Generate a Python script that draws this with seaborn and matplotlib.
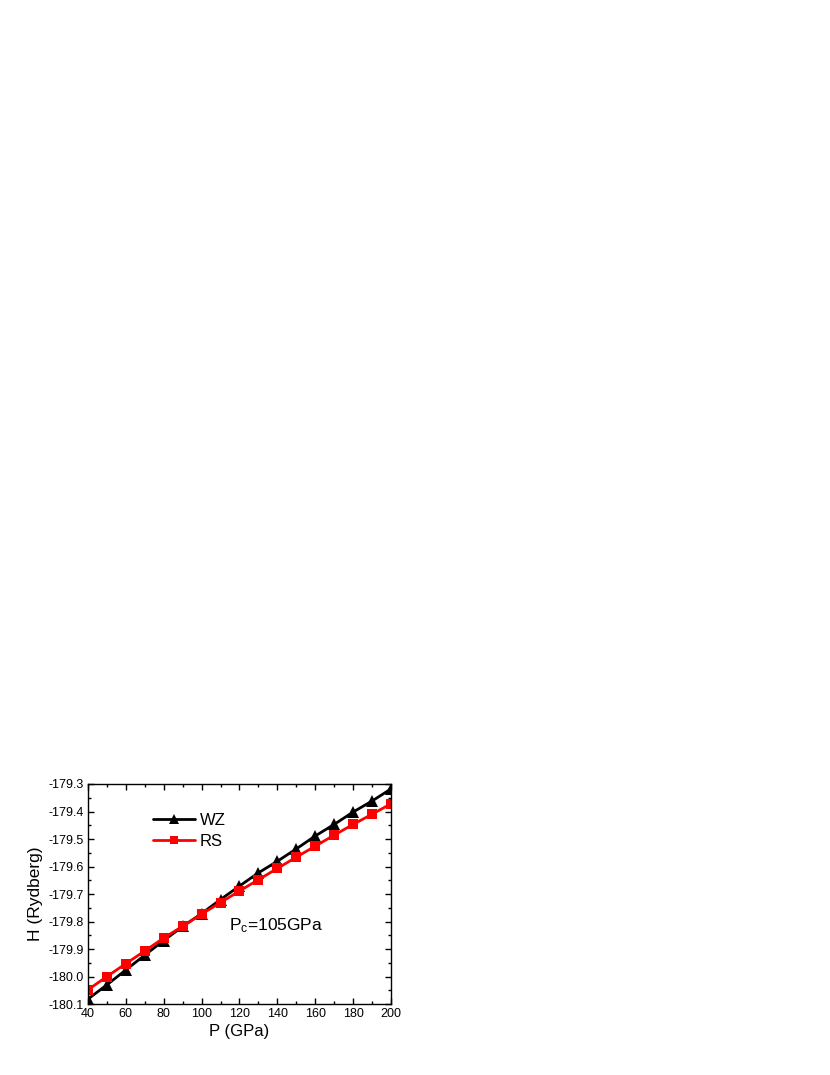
import numpy as np
import pandas as pd
import matplotlib
matplotlib.use('Agg')
import matplotlib.pyplot as plt
import seaborn as sns
from matplotlib.ticker import MultipleLocator, FormatStrFormatter

# 압력 (GPa)
pressure = [40, 50, 60, 70, 80, 90, 100, 110, 120, 130, 140, 150, 160, 170, 180, 190, 200]

# 엔탈피 (Rydberg) - 그림에서 읽은 값
h_wz = [-180.082, -180.030, -179.976, -179.922, -179.869, -179.818, -179.771, -179.720,
        -179.671, -179.623, -179.581, -179.536, -179.489, -179.447, -179.402, -179.362, -179.318]
h_rs = [-180.048, -180.000, -179.953, -179.907, -179.860, -179.817, -179.773, -179.731,
        -179.689, -179.648, -179.607, -179.566, -179.526, -179.486, -179.447, -179.410, -179.372]

sns.set_style('ticks')
plt.rcParams['font.family'] = ['Liberation Sans', 'DejaVu Sans']
plt.rcParams['mathtext.default'] = 'regular'
plt.rcParams['xtick.direction'] = 'in'
plt.rcParams['ytick.direction'] = 'in'
for k in ['text.color', 'axes.labelcolor', 'xtick.color', 'ytick.color', 'axes.edgecolor']:
    plt.rcParams[k] = 'black'

fig = plt.figure(figsize=(8.3, 10.75), dpi=100)
ax = fig.add_axes([0.106, 0.066, 0.365, 0.2047])

# 두 상(phase)을 따로 그림 (마커 크기 다르게)
sns.lineplot(x=pressure, y=h_wz, color='black', marker='^', markersize=8.5,
             markeredgewidth=0, linewidth=2, label='WZ', ax=ax)
sns.lineplot(x=pressure, y=h_rs, color='red', marker='s', markersize=6.5,
             markeredgewidth=0, linewidth=2, label='RS', ax=ax)

ax.set_xlim(40, 200)
ax.set_ylim(-180.1, -179.3)
ax.xaxis.set_major_locator(MultipleLocator(20))
ax.xaxis.set_minor_locator(MultipleLocator(10))
ax.yaxis.set_major_locator(MultipleLocator(0.1))
ax.yaxis.set_minor_locator(MultipleLocator(0.05))
ax.yaxis.set_major_formatter(FormatStrFormatter('%.1f'))
ax.tick_params(which='both', top=True, right=True, labelsize=9, pad=3)
ax.tick_params(which='major', length=4, width=1)
ax.tick_params(which='minor', length=2.5, width=1)
for s in ax.spines.values():
    s.set_linewidth(1.0)

ax.set_xlabel('P (GPa)', fontsize=12, labelpad=3)
ax.set_ylabel('H (Rydberg)', fontsize=12.5, labelpad=4)

ax.legend(loc='upper left', bbox_to_anchor=(0.215, 0.87),
          frameon=False, fontsize=12, handlelength=2.5, handletextpad=0.3,
          labelspacing=0.4, borderpad=0, borderaxespad=0, markerscale=0.9)

ax.text(0.465, 0.336, r'P$_c$=105GPa', transform=ax.transAxes,
        fontsize=12.5, va='baseline')

fig.savefig('out.png', dpi=100)
